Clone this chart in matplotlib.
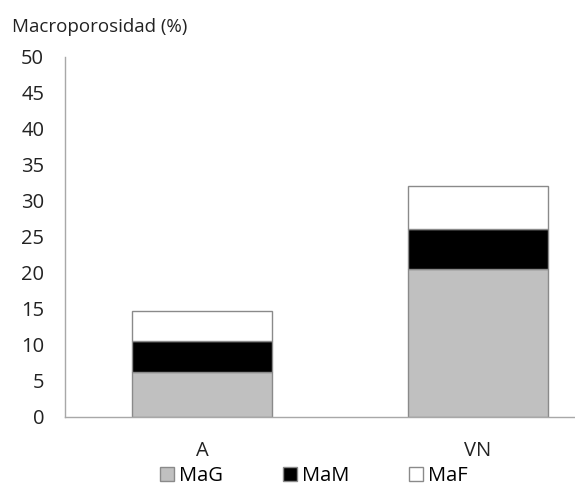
import numpy as np
from matplotlib import pyplot as plt
from matplotlib.patches import Patch

plt.rcParams['font.family'] = ['Open Sans', 'DejaVu Sans']

sites = ["A", "VN"]
series = ["MaG", "MaM", "MaF"]
mag = [6.3, 20.5]
mam = [4.2, 5.6]
maf = [4.2, 6.0]

colors = {"MaG": "#c0c0c0", "MaM": "#000000", "MaF": "#ffffff"}
edge = "#8a8a8a"

fig = plt.figure(figsize=(5.75, 4.87), dpi=100)
ax = fig.add_axes([65 / 575, 70 / 487, 510 / 575, 360 / 487])

x = np.arange(len(sites))
bottom = np.zeros(len(sites))
for name, vals in zip(series, [mag, mam, maf]):
    ax.bar(x, vals, width=0.504, bottom=bottom, color=colors[name],
           edgecolor=edge, linewidth=1.0, label=name)
    bottom += np.array(vals)

ax.set_xlim(-0.496, 1.351)
ax.set_ylim(0, 50)
ax.set_yticks(np.arange(0, 51, 5))
ax.set_xticks(x)
ax.set_xticklabels(sites)
ax.tick_params(axis='both', length=0, labelsize=14.5, colors='#222222')
ax.tick_params(axis='y', pad=15)
ax.tick_params(axis='x', pad=17)
for side in ['top', 'right']:
    ax.spines[side].set_visible(False)
for side in ['left', 'bottom']:
    ax.spines[side].set_color('#a8a8a8')
    ax.spines[side].set_linewidth(1.0)

fig.text(12 / 575, 1 - 27 / 487, "Macroporosidad (%)", fontsize=13.5,
         color='#222222', va='center', ha='left')

handles = [Patch(facecolor=colors[s], edgecolor=edge, label=s) for s in series]
fig.legend(handles=handles, loc='center', bbox_to_anchor=(314 / 575, 1 - 476 / 487),
           ncol=3, frameon=False, fontsize=14.5, handlelength=0.7, handleheight=0.7,
           handletextpad=0.25, columnspacing=2.95)

fig.savefig("out.png", dpi=100)
